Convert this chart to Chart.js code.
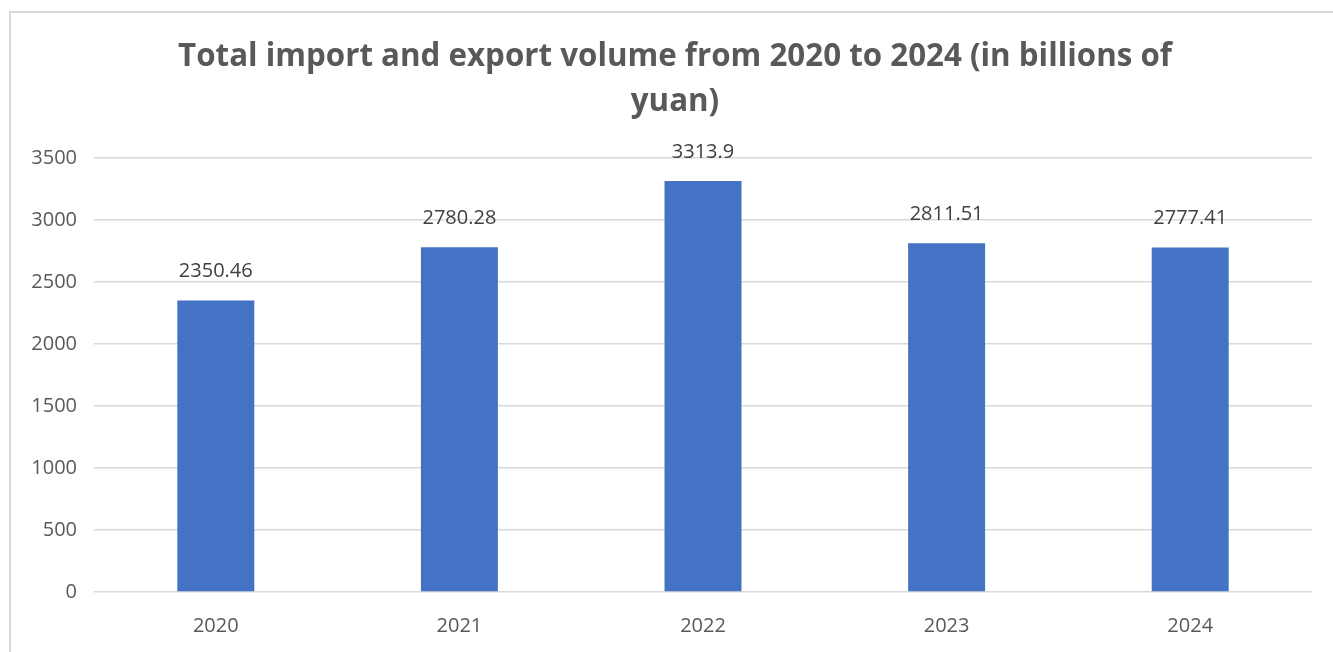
<!DOCTYPE html>
<html>
<head>
<meta charset="utf-8">
<script src="https://cdn.jsdelivr.net/npm/chart.js@4"></script>
<style>
  html, body { margin: 0; padding: 0; background: #ffffff; overflow: hidden; }
  #frame {
    position: absolute; left: 9px; top: 11px;
    width: 1400px; height: 700px;
    border: 2px solid #d9d9d9;
  }
  #wrap { position: absolute; left: 0; top: 0; width: 1333px; height: 652px; }
</style>
</head>
<body>
<div id="frame"></div>
<div id="wrap"><canvas id="myChart"></canvas></div>
<script>
const years = ["2020", "2021", "2022", "2023", "2024"];
const volumes = [2350.46, 2780.28, 3313.9, 2811.51, 2777.41];
const titleLines = ["Total import and export volume from 2020 to 2024 (in billions of", "yuan)"];
const yMax = 3500;
const yStep = 500;

const fontName = "'Open Sans', sans-serif";
const textColor = "#595959";

// title centred on the whole framed box, not just the plot area
const boxTitle = {
  id: "boxTitle",
  afterDraw(chart) {
    const ctx = chart.ctx;
    ctx.save();
    ctx.font = "bold 31.3px " + fontName;
    ctx.fillStyle = textColor;
    ctx.textAlign = "center";
    ctx.textBaseline = "middle";
    titleLines.forEach((line, i) => {
      ctx.fillText(line, 675, 57 + i * 45);
    });
    ctx.restore();
  }
};

// writes each bar's value just above it
const valueLabels = {
  id: "valueLabels",
  afterDatasetsDraw(chart) {
    const ctx = chart.ctx;
    const meta = chart.getDatasetMeta(0);
    ctx.save();
    ctx.font = "20px " + fontName;
    ctx.fillStyle = "#404040";
    ctx.textAlign = "center";
    ctx.textBaseline = "middle";
    meta.data.forEach((bar, i) => {
      ctx.fillText(String(volumes[i]), bar.x, bar.y - 29);
    });
    ctx.restore();
  }
};

const config = {
  type: "bar",
  data: {
    labels: years,
    datasets: [
      {
        label: "Total import and export volume",
        data: volumes,
        backgroundColor: "#4472c4",
        borderWidth: 0,
        categoryPercentage: 1,
        barPercentage: 0.316
      }
    ]
  },
  options: {
    responsive: false,
    animation: false,
    layout: { padding: { left: 0, right: 21, top: 158, bottom: 0 } },
    plugins: {
      legend: { display: false },
      tooltip: { enabled: false },
      title: { display: false }
    },
    scales: {
      x: {
        grid: { display: false },
        border: { display: false },
        ticks: { color: textColor, font: { family: fontName, size: 20 }, padding: 14 },
        afterFit(scale) { scale.height = 60; }
      },
      y: {
        min: 0,
        max: yMax,
        grid: { color: "#d9d9d9", lineWidth: 1.5, drawTicks: false },
        border: { display: false },
        ticks: {
          stepSize: yStep,
          color: textColor,
          font: { family: fontName, size: 20 },
          padding: 17,
          callback: (value) => String(value)
        },
        afterFit(scale) { scale.width = 94; }
      }
    }
  },
  plugins: [valueLabels, boxTitle]
};

const canvas = document.getElementById("myChart");
canvas.width = 1333;
canvas.height = 652;
const chart = new Chart(canvas, config);
</script>
</body>
</html>
